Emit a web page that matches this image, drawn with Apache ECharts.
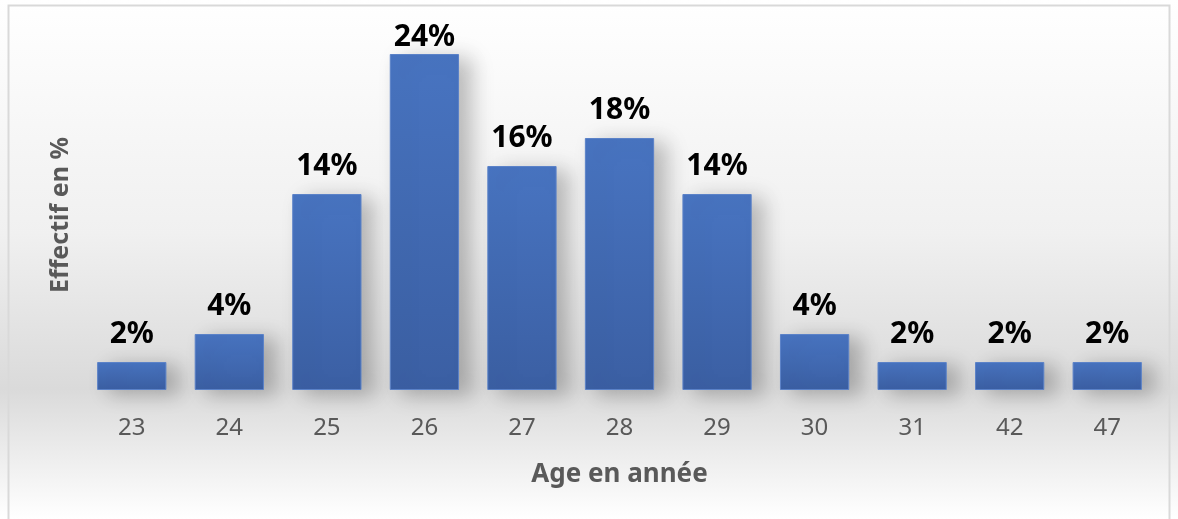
<!DOCTYPE html>
<html>
<head>
<meta charset="utf-8">
<script src="https://cdn.jsdelivr.net/npm/echarts@6/dist/echarts.min.js"></script>
<style>
  html, body { margin: 0; padding: 0; background: #fff; }
  #chart { width: 1178px; height: 519px; }
</style>
</head>
<body>
<div id="chart"></div>
<script>
  // ages (categories) and share in %
  var ages = ['23', '24', '25', '26', '27', '28', '29', '30', '31', '42', '47'];
  var effectif = [2, 4, 14, 24, 16, 18, 14, 4, 2, 2, 2];

  var chart = echarts.init(document.getElementById('chart'));
  var font = '"Noto Sans", "Open Sans", sans-serif';
  var maxVal = Math.max.apply(null, effectif);

  // the tallest label sits closer to its bar (clamped inside the plot area)
  var barData = effectif.map(function (v) {
    return v === maxVal ? { value: v, label: { distance: 2 } } : v;
  });

  chart.setOption({
    animation: false,
    backgroundColor: {
      type: 'linear', x: 0, y: 0, x2: 0, y2: 1,
      colorStops: [
        { offset: 0, color: '#ffffff' },
        { offset: 0.45, color: '#f0f0f0' },
        { offset: 0.75, color: '#dadada' },
        { offset: 1, color: '#ffffff' }
      ]
    },
    graphic: [{
      type: 'rect',
      shape: { x: 8.5, y: 5.5, width: 1161, height: 530 },
      style: { fill: null, stroke: '#d9d9d9', lineWidth: 2 },
      silent: true
    }],
    grid: { left: 83, right: 22, top: 40, bottom: 129 },
    xAxis: {
      type: 'category',
      data: ages,
      name: 'Age en année',
      nameLocation: 'middle',
      nameGap: 72,
      nameTextStyle: { color: '#595959', fontSize: 26, fontWeight: 'bold', fontFamily: font },
      axisLine: { show: false },
      axisTick: { show: false },
      axisLabel: { color: '#595959', fontSize: 24, margin: 26, fontFamily: font }
    },
    yAxis: {
      type: 'value',
      min: 0,
      max: 25,
      name: 'Effectif en %',
      nameLocation: 'middle',
      nameGap: 10,
      nameTextStyle: { color: '#595959', fontSize: 25, fontWeight: 'bold', fontFamily: font },
      axisLine: { show: false },
      axisTick: { show: false },
      axisLabel: { show: false },
      splitLine: { show: false }
    },
    series: [{
      type: 'bar',
      data: barData,
      barWidth: '71%',
      itemStyle: {
        color: {
          type: 'linear', x: 0, y: 0, x2: 0, y2: 1,
          colorStops: [
            { offset: 0, color: '#4874c1' },
            { offset: 1, color: '#3b5fa3' }
          ]
        },
        borderColor: '#5b82c8',
        borderWidth: 1,
        shadowBlur: 20,
        shadowOffsetX: 12,
        shadowOffsetY: 4,
        shadowColor: 'rgba(0,0,0,0.25)'
      },
      label: {
        show: true,
        position: 'top',
        distance: 13,
        formatter: '{c}%',
        color: '#000',
        fontSize: 30,
        fontWeight: 'bold',
        fontFamily: font
      }
    }]
  });
</script>
</body>
</html>
